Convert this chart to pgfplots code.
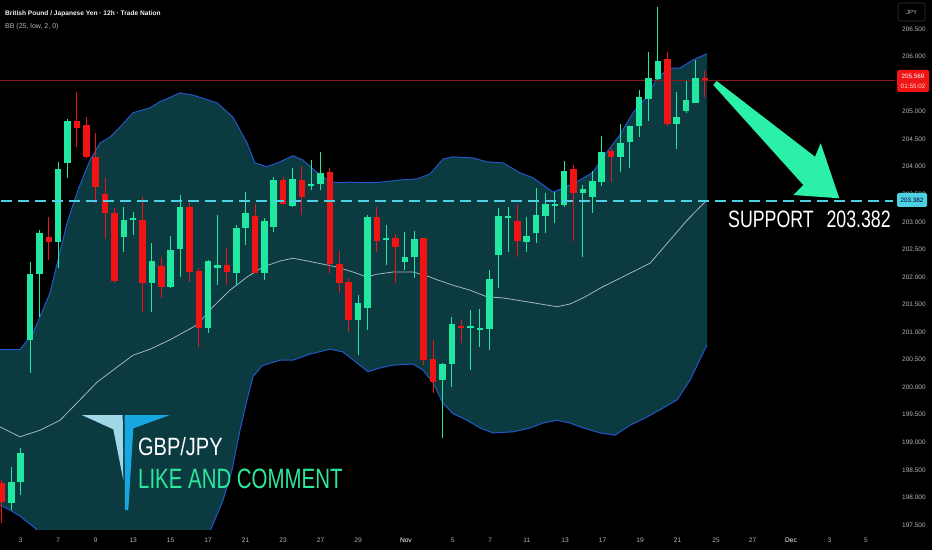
\documentclass[border=0pt]{standalone}
\usepackage{pgfplots}
\pgfplotsset{compat=1.18}
\usepackage{pgfplotstable}
\usepackage{fontspec}
\setmainfont{Liberation Sans}
\definecolor{bandfill}{HTML}{0B3A41}
\definecolor{bandline}{HTML}{2457C5}
\definecolor{midline}{HTML}{A3B6BA}
\definecolor{cgreen}{HTML}{20E8A0}
\definecolor{cred}{HTML}{F01414}
\definecolor{cyanline}{HTML}{4DD0E1}
\definecolor{arrowgreen}{HTML}{2BF0A8}
\definecolor{likegreen}{HTML}{2DE89C}
\definecolor{tickgrey}{HTML}{B2B5BE}
\definecolor{pricered}{HTML}{8B1A1A}
\definecolor{logolight}{HTML}{A0D8E8}
\definecolor{logodark}{HTML}{18A8E0}

\pgfplotstableread{
i o h l c
1 197.90 198.55 197.77 198.28
2 198.28 198.90 198.04 198.81
3 200.86 202.27 200.26 202.05
4 202.05 202.85 201.27 202.80
6 202.64 204.09 202.16 203.96
7 204.07 204.87 203.80 204.83
13 202.73 203.27 202.45 203.03
14 203.05 203.18 202.76 203.06
16 201.89 202.62 201.36 202.29
18 201.82 202.74 201.80 202.49
19 202.51 203.49 202.00 203.27
22 201.07 202.31 200.98 202.29
23 202.16 203.13 201.85 202.22
25 202.07 202.94 201.85 202.89
26 202.89 203.54 202.58 203.16
28 202.07 203.07 201.95 203.02
29 202.91 203.81 202.82 203.76
31 203.29 203.98 203.27 203.78
33 203.66 204.12 203.58 203.68
34 203.69 204.27 203.58 203.89
38 201.22 201.67 200.58 201.53
39 201.44 203.13 201.04 203.09
41 202.67 202.94 202.22 202.71
43 202.27 202.82 202.13 202.36
44 202.36 202.83 201.98 202.69
47 200.13 200.44 199.08 200.42
48 200.42 201.27 200.00 201.15
50 201.08 201.40 200.31 201.10
51 201.05 201.42 200.73 201.07
52 201.06 202.13 200.68 201.96
53 202.40 203.25 201.80 203.11
54 203.08 203.27 202.45 203.10
56 202.64 203.09 202.45 202.74
57 202.80 203.62 202.62 203.13
58 203.11 203.52 202.80 203.32
59 203.30 203.54 202.98 203.31
60 203.31 204.10 203.27 203.92
62 203.52 203.67 202.36 203.60
63 203.45 203.92 203.16 203.74
64 203.72 204.56 203.65 204.27
66 204.18 204.78 203.91 204.43
67 204.45 204.74 203.98 204.74
68 204.74 205.39 204.54 205.27
69 205.23 206.08 204.83 205.61
70 205.59 206.90 205.57 205.92
72 204.78 205.36 204.32 204.90
73 205.01 205.56 204.98 205.21
74 205.16 205.94 205.16 205.61
}\greentab

\pgfplotstableread{
i o h l c
0 198.26 198.32 197.54 197.92
5 202.73 203.09 202.31 202.64
8 204.83 205.36 204.36 204.70
9 204.76 204.90 204.16 204.18
10 204.18 204.61 203.34 203.63
11 203.51 203.80 202.69 203.16
12 203.16 203.25 201.89 201.93
15 203.03 203.45 201.36 201.89
17 202.20 202.36 201.62 201.82
20 203.27 203.34 201.91 202.09
21 202.11 202.16 200.73 201.07
24 202.22 202.53 201.85 202.09
27 203.11 203.32 202.07 202.07
30 203.76 203.81 203.31 203.32
32 203.76 204.01 203.13 203.45
35 203.91 203.98 202.07 202.24
36 202.24 202.47 201.71 201.89
37 201.91 201.98 201.00 201.22
40 203.09 203.27 202.45 202.65
42 202.71 202.78 201.89 202.54
45 202.71 202.71 200.40 200.49
46 200.51 200.86 199.90 200.09
49 201.10 201.22 200.80 201.08
55 203.02 203.31 202.36 202.65
61 203.96 204.03 202.65 203.52
65 204.29 204.34 203.72 204.18
71 205.96 206.08 204.74 204.78
75 205.61 205.74 205.27 205.569
}\redtab

\begin{document}
\begin{tikzpicture}
\fill[black] (0,0) rectangle (932pt,550pt);
\begin{axis}[
  at={(0pt,21pt)}, anchor=south west,
  width=895pt, height=529pt, scale only axis,
  xmin=-0.2134, xmax=95.30, ymin=197.427, ymax=207.026,
  axis line style={draw=none},
  major tick length=0pt,
  xtick={2,6,10,14,18,22,26,30,34,38,43.1,48.1,52.1,56,60.1,64.1,68.1,72.1,76.2,80.1,84.2,88.3,92.2},
  xticklabels={3,7,9,13,15,17,21,23,27,29,{\textcolor{white}{Nov}},5,7,11,13,17,19,21,25,27,{\textcolor{white}{Dec}},3,5},
  xticklabel style={font=\fontsize{6.6}{7}\selectfont, text=tickgrey, anchor=center, inner sep=0pt, yshift=-11pt},
  ytick={197.5,198,198.5,199,199.5,200,200.5,201,201.5,202,202.5,203,203.5,204,204.5,205,206,206.5},
  yticklabel pos=right,
  yticklabel style={font=\fontsize{6.5}{7}\selectfont, text=tickgrey, anchor=west, inner sep=0pt, xshift=7pt,
    /pgf/number format/.cd, fixed, fixed zerofill, precision=3, 1000 sep={}, assume math mode=true},
  candle/.style={forget plot, only marks, mark=*, mark size=0pt, mark options={draw=none, fill=none}},
]
% Bollinger band area: upper band left to right, then lower band right to left
\addplot[fill=bandfill, draw=none] coordinates {
(-0.21,200.68) (1.92,200.68) (3.31,200.98) (5.12,201.71) (6.94,202.98) (8.11,203.58) (9.39,204.12) (10.46,204.43) (11.53,204.54) (12.59,204.72) (13.98,204.98) (15.80,205.07) (16.86,205.18) (19.00,205.34) (20.38,205.30) (22.95,205.16) (24.65,204.90) (26.15,204.43) (27.00,204.07) (28.28,204.00) (29.67,204.09) (31.06,204.20) (32.12,204.12) (33.19,203.96) (34.26,203.81) (35.54,203.71) (37.14,203.72) (39.06,203.71) (40.34,203.72) (42.48,203.76) (44.29,203.78) (45.68,203.87) (47.06,204.14) (48.13,204.18) (50.27,204.16) (51.76,204.09) (53.47,204.07) (55.28,203.89) (56.67,203.80) (57.74,203.67) (58.80,203.54) (59.87,203.61) (61.69,203.76) (63.07,203.90) (64.57,204.27) (65.95,204.58) (67.34,204.98) (68.84,205.27) (69.90,205.61) (71.29,205.79) (72.36,205.79) (73.75,205.94) (75.24,206.05)
(75.24,200.77) (73.43,200.13) (72.04,199.77) (70.22,199.59) (68.62,199.44) (67.02,199.31) (65.42,199.13) (63.82,199.17) (61.69,199.28) (60.62,199.35) (59.23,199.40) (57.74,199.35) (56.35,199.26) (54.54,199.19) (52.40,199.17) (51.01,199.26) (49.63,199.40) (48.13,199.52) (47.06,199.71) (46.00,200.08) (44.93,200.31) (43.86,200.42) (41.73,200.40) (40.34,200.35) (39.06,200.28) (37.89,200.44) (36.39,200.64) (35.00,200.69) (32.87,200.60) (31.06,200.49) (29.67,200.49) (27.75,200.39) (26.79,200.19) (26.15,199.77) (25.40,199.22) (24.55,198.50) (23.59,197.95) (22.31,197.43) (21.13,197.14) (15.80,196.86) (10.46,196.86) (5.12,197.14) (3.63,197.43) (1.92,197.66) (0.85,197.77) (-0.21,197.86)} -- cycle;
\addplot[draw=bandline, line width=1pt] coordinates {
(-0.21,200.68) (1.92,200.68) (3.31,200.98) (5.12,201.71) (6.94,202.98) (8.11,203.58) (9.39,204.12) (10.46,204.43) (11.53,204.54) (12.59,204.72) (13.98,204.98) (15.80,205.07) (16.86,205.18) (19.00,205.34) (20.38,205.30) (22.95,205.16) (24.65,204.90) (26.15,204.43) (27.00,204.07) (28.28,204.00) (29.67,204.09) (31.06,204.20) (32.12,204.12) (33.19,203.96) (34.26,203.81) (35.54,203.71) (37.14,203.72) (39.06,203.71) (40.34,203.72) (42.48,203.76) (44.29,203.78) (45.68,203.87) (47.06,204.14) (48.13,204.18) (50.27,204.16) (51.76,204.09) (53.47,204.07) (55.28,203.89) (56.67,203.80) (57.74,203.67) (58.80,203.54) (59.87,203.61) (61.69,203.76) (63.07,203.90) (64.57,204.27) (65.95,204.58) (67.34,204.98) (68.84,205.27) (69.90,205.61) (71.29,205.79) (72.36,205.79) (73.75,205.94) (75.24,206.05)};
\addplot[draw=bandline, line width=1pt] coordinates {
(-0.21,197.86) (0.85,197.77) (1.92,197.66) (3.63,197.43) (5.12,197.14) (10.46,196.86) (15.80,196.86) (21.13,197.14) (22.31,197.43) (23.59,197.95) (24.55,198.50) (25.40,199.22) (26.15,199.77) (26.79,200.19) (27.75,200.39) (29.67,200.49) (31.06,200.49) (32.87,200.60) (35.00,200.69) (36.39,200.64) (37.89,200.44) (39.06,200.28) (40.34,200.35) (41.73,200.40) (43.86,200.42) (44.93,200.31) (46.00,200.08) (47.06,199.71) (48.13,199.52) (49.63,199.40) (51.01,199.26) (52.40,199.17) (54.54,199.19) (56.35,199.26) (57.74,199.35) (59.23,199.40) (60.62,199.35) (61.69,199.28) (63.82,199.17) (65.42,199.13) (67.02,199.31) (68.62,199.44) (70.22,199.59) (72.04,199.77) (73.43,200.13) (75.24,200.77)};
% basis
\addplot[draw=midline, line width=0.8pt] coordinates {
(-0.21,199.28) (1.92,199.10) (4.06,199.22) (6.19,199.40) (8.32,199.77) (10.14,200.09) (11.85,200.31) (13.98,200.58) (15.80,200.69) (17.93,200.86) (20.81,201.13) (22.52,201.46) (24.33,201.76) (26.15,202.00) (27.85,202.18) (29.67,202.29) (31.06,202.34) (33.19,202.27) (35.75,202.18) (37.46,202.09) (38.95,202.00) (40.02,202.05) (41.73,202.09) (43.86,202.09) (45.68,202.00) (46.42,201.95) (48.13,201.85) (49.95,201.76) (51.76,201.64) (53.47,201.62) (56.03,201.55) (59.23,201.46) (60.62,201.51) (62.01,201.62) (64.09,201.82) (66.70,202.04) (69.16,202.25) (71.29,202.67) (73.11,203.03) (75.24,203.40)};
% current price line
\addplot[draw=pricered, line width=0.8pt] coordinates {(-0.3,205.569) (95.4,205.569)};
% candles: wicks
\addplot[candle, error bars/.cd, y dir=plus, y explicit, error mark=none,
  error bar style={draw=cgreen, line width=1pt}]
  table[x=i, y=l, y error plus expr=\thisrow{h}-\thisrow{l}] {\greentab};
\addplot[candle, error bars/.cd, y dir=plus, y explicit, error mark=none,
  error bar style={draw=cred, line width=1pt}]
  table[x=i, y=l, y error plus expr=\thisrow{h}-\thisrow{l}] {\redtab};
% candles: bodies
\addplot[candle, error bars/.cd, y dir=both, y explicit, error mark=none,
  error bar style={draw=cgreen, line width=6.5pt}]
  table[x=i, y expr=(\thisrow{o}+\thisrow{c})/2, y error expr={max(abs(\thisrow{c}-\thisrow{o})/2,0.012)}] {\greentab};
\addplot[candle, error bars/.cd, y dir=both, y explicit, error mark=none,
  error bar style={draw=cred, line width=6.5pt}]
  table[x=i, y expr=(\thisrow{o}+\thisrow{c})/2, y error expr={max(abs(\thisrow{c}-\thisrow{o})/2,0.012)}] {\redtab};
% support line
\addplot[draw=cyanline, line width=2.6pt, dash pattern=on 11pt off 6pt] coordinates {(-0.1,203.382) (95.1,203.382)};
\end{axis}

\begin{scope}[x=1pt, y=-1pt, yshift=550pt]
% arrow
\fill[arrowgreen] (716.7,81) -- (815,156.7) -- (820.7,143.3) -- (839.3,198.3) -- (793.3,195) -- (803.3,185) -- (713.3,85) -- cycle;
% texts
\node[anchor=base west, inner sep=0pt, text=white!90!gray, font=\fontsize{6.6}{8}\selectfont\bfseries] at (5,16) {British Pound / Japanese Yen · 12h · Trade Nation};
\node[anchor=base west, inner sep=0pt, text=tickgrey, font=\fontsize{7}{8}\selectfont] at (5,29) {BB (25, low, 2, 0)};
\node[anchor=base west, inner sep=0pt, text=white, xscale=0.75, font=\fontsize{23.7}{26}\selectfont] at (728,227) {SUPPORT\hspace{17pt}203.382};
\node[anchor=base west, inner sep=0pt, text=white, xscale=0.8, font=\fontsize{25}{28}\selectfont] at (138,455) {GBP/JPY};
\node[anchor=base west, inner sep=0pt, text=likegreen, xscale=0.73, font=\fontsize{28}{30}\selectfont] at (138,488) {LIKE AND COMMENT};
% logo
\fill[logolight] (81.7,415) -- (122.7,415) -- (123.3,480) -- (113.3,429.3) -- cycle;
\fill[logodark] (124.5,415) -- (170,415) -- (133.3,428.3) -- (128.3,510) -- (125,510) -- cycle;
% price axis boxes
\draw[draw=white!20!black, rounded corners=2pt, line width=0.6pt] (898,3) rectangle (925,21);
\node[text=tickgrey, font=\fontsize{6}{7}\selectfont, inner sep=0pt] at (911.5,12) {JPY};
\fill[cred, rounded corners=1.5pt] (897,70) rectangle (929,92);
\node[text=white, font=\fontsize{6.3}{7}\selectfont, inner sep=0pt] at (913,76.5) {205.569};
\node[text=white!85!red, font=\fontsize{6.3}{7}\selectfont, inner sep=0pt] at (913,86.5) {01:55:02};
\fill[cyanline, rounded corners=1.5pt] (897,193) rectangle (927,207);
\node[text=black!85!blue, font=\fontsize{6.3}{7}\selectfont, inner sep=0pt] at (912,200) {203.382};
\end{scope}
\pgfresetboundingbox
\useasboundingbox (0,0) rectangle (932pt,550pt);
\end{tikzpicture}
\end{document}
